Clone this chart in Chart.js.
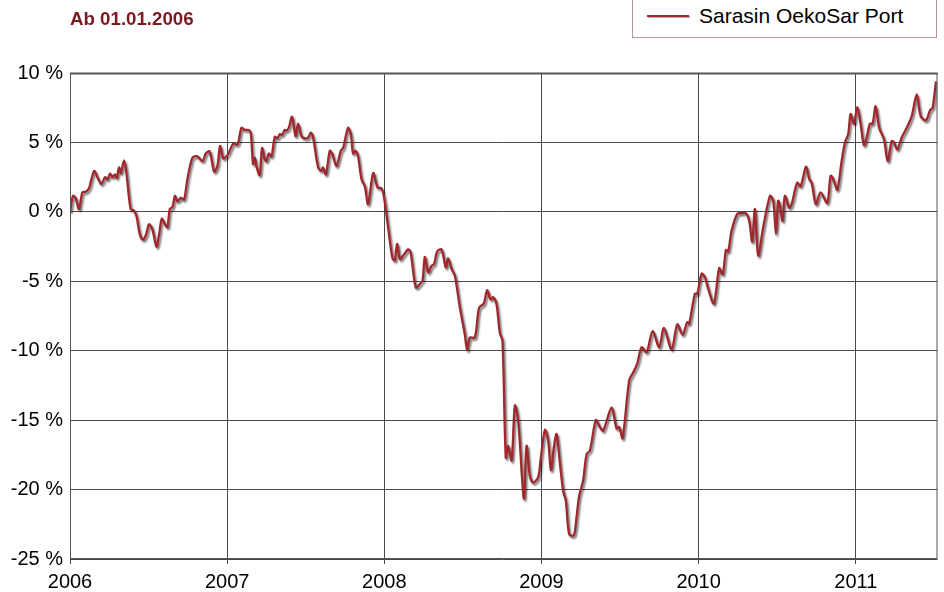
<!DOCTYPE html>
<html>
<head>
<meta charset="utf-8">
<script src="https://cdn.jsdelivr.net/npm/chart.js@4.4.1/dist/chart.umd.min.js"></script>
<style>
  body { margin: 0; background: #fff; font-family: "Liberation Sans", Arial, sans-serif; }
  #wrap { position: relative; width: 944px; height: 592px; }
  #since { position: absolute; left: 70px; top: 8px; font-weight: bold; font-size: 18.7px; color: #7b1a1f; }
  #legend { position: absolute; left: 632px; top: -4px; width: 305px; height: 42px; border: 1px solid #b49494; box-sizing: border-box; background: #fff; }
  #legend .swatch { position: absolute; left: 14px; top: 18px; width: 42px; height: 2px; background: #a0282d; box-shadow: 1px 1px 1px rgba(0,0,0,0.35); }
  #legend .name { position: absolute; left: 66px; top: 7px; font-size: 21px; color: #000; white-space: nowrap; }
</style>
</head>
<body>
<div id="wrap">
  <canvas id="perfChart" width="944" height="592"></canvas>
  <div id="since">Ab 01.01.2006</div>
  <div id="legend"><div class="swatch"></div><div class="name">Sarasin OekoSar Port</div></div>
</div>
<script>
// weekly-ish performance since 01.01.2006, in percent
const fundName = 'Sarasin OekoSar Port';
const yearTicks = [2006, 2007, 2008, 2009, 2010, 2011];
const percentTicks = [-25, -20, -15, -10, -5, 0, 5, 10];

const dates = [
  2006.000, 2006.019, 2006.036, 2006.057, 2006.079, 2006.100, 2006.121, 2006.153, 2006.174, 2006.200,
  2006.223, 2006.238, 2006.255, 2006.270, 2006.286, 2006.297, 2006.312, 2006.323, 2006.344, 2006.359,
  2006.386, 2006.407, 2006.423, 2006.444, 2006.465, 2006.482, 2006.503, 2006.524, 2006.550, 2006.566,
  2006.584, 2006.605, 2006.620, 2006.635, 2006.652, 2006.668, 2006.684, 2006.705, 2006.726, 2006.747,
  2006.779, 2006.811, 2006.843, 2006.864, 2006.889, 2006.917, 2006.938, 2006.955, 2006.976, 2007.006,
  2007.038, 2007.066, 2007.091, 2007.112, 2007.137, 2007.150, 2007.165, 2007.176, 2007.186, 2007.207,
  2007.222, 2007.239, 2007.250, 2007.265, 2007.282, 2007.303, 2007.320, 2007.335, 2007.349, 2007.367,
  2007.377, 2007.392, 2007.413, 2007.435, 2007.451, 2007.473, 2007.494, 2007.515, 2007.532, 2007.547,
  2007.579, 2007.600, 2007.610, 2007.628, 2007.653, 2007.668, 2007.696, 2007.723, 2007.738, 2007.769,
  2007.787, 2007.801, 2007.817, 2007.833, 2007.855, 2007.876, 2007.897, 2007.929, 2007.957, 2007.982,
  2007.999, 2008.024, 2008.052, 2008.067, 2008.081, 2008.099, 2008.120, 2008.151, 2008.167, 2008.200,
  2008.226, 2008.243, 2008.258, 2008.279, 2008.300, 2008.317, 2008.336, 2008.364, 2008.391, 2008.406,
  2008.428, 2008.449, 2008.481, 2008.512, 2008.527, 2008.544, 2008.576, 2008.603, 2008.633, 2008.654,
  2008.676, 2008.692, 2008.714, 2008.735, 2008.752, 2008.773, 2008.788, 2008.810, 2008.831, 2008.852,
  2008.888, 2008.905, 2008.926, 2008.947, 2008.979, 2008.994, 2009.022, 2009.043, 2009.060, 2009.079,
  2009.096, 2009.117, 2009.138, 2009.155, 2009.176, 2009.206, 2009.223, 2009.240, 2009.265, 2009.287,
  2009.308, 2009.346, 2009.372, 2009.393, 2009.446, 2009.478, 2009.495, 2009.516, 2009.558, 2009.584,
  2009.609, 2009.637, 2009.669, 2009.707, 2009.749, 2009.779, 2009.828, 2009.864, 2009.898, 2009.927,
  2009.940, 2009.976, 2009.991, 2010.019, 2010.040, 2010.061, 2010.097, 2010.131, 2010.153, 2010.174,
  2010.188, 2010.210, 2010.246, 2010.273, 2010.301, 2010.322, 2010.341, 2010.358, 2010.379, 2010.411,
  2010.454, 2010.475, 2010.492, 2010.506, 2010.517, 2010.534, 2010.549, 2010.576, 2010.592, 2010.627,
  2010.649, 2010.683, 2010.704, 2010.719, 2010.746, 2010.776, 2010.818, 2010.840, 2010.857, 2010.882,
  2010.910, 2010.931, 2010.952, 2010.967, 2010.988, 2011.010, 2011.031, 2011.052, 2011.069, 2011.090,
  2011.107, 2011.126, 2011.149, 2011.179, 2011.203, 2011.228, 2011.243, 2011.264, 2011.292, 2011.324,
  2011.356, 2011.388, 2011.413, 2011.447, 2011.472, 2011.489, 2011.510
];

const performance = [
  0.0, 1.15, 1.0, 0.2, 1.4, 1.45, 1.7, 2.95, 2.5, 2.0,
  2.5, 2.35, 2.75, 2.5, 2.7, 2.45, 3.2, 2.8, 3.7, 2.8,
  0.2, 0.1, -0.3, -1.6, -2.0, -1.7, -0.9, -1.25, -2.5, -1.7,
  -0.5, -0.9, -1.1, 0.2, 0.35, 1.15, 0.75, 1.0, 0.9, 2.35,
  3.9, 4.0, 3.65, 4.2, 4.35, 2.9, 3.3, 4.75, 3.85, 4.15,
  4.9, 4.85, 6.05, 5.9, 5.9, 5.7, 3.45, 3.9, 3.3, 2.65,
  4.6, 3.8, 3.65, 4.2, 4.0, 5.4, 5.3, 5.6, 5.55, 5.9,
  5.85, 6.05, 6.85, 5.45, 6.35, 5.45, 5.3, 5.35, 5.7, 5.35,
  3.2, 2.95, 3.2, 2.7, 4.4, 4.2, 3.3, 4.4, 4.6, 6.05,
  5.6, 4.2, 4.4, 4.0, 2.35, 1.85, 0.55, 2.8, 1.75, 1.7,
  1.0, -1.1, -3.35, -3.5, -2.3, -3.4, -3.15, -2.7, -2.9, -5.45,
  -5.2, -4.95, -3.25, -4.35, -3.9, -3.75, -2.85, -2.7, -4.0, -3.35,
  -4.1, -4.6, -6.9, -8.8, -9.95, -9.05, -9.05, -6.9, -6.6, -5.65,
  -6.3, -6.15, -6.65, -8.7, -9.3, -17.7, -16.85, -17.9, -13.95, -15.05,
  -20.65, -16.85, -19.0, -19.5, -19.1, -17.9, -15.7, -16.5, -18.6, -16.95,
  -16.0, -18.05, -20.1, -20.8, -23.2, -23.3, -22.0, -20.45, -19.35, -17.45,
  -17.2, -15.0, -15.5, -15.75, -14.1, -15.6, -15.5, -16.3, -12.15, -11.55,
  -10.95, -9.75, -10.1, -8.6, -9.75, -8.35, -9.9, -8.1, -8.85, -7.95,
  -8.05, -5.9, -5.9, -4.45, -4.7, -5.55, -6.6, -4.05, -4.5, -2.75,
  -2.85, -1.35, -0.15, -0.1, -0.1, -0.65, -2.15, 0.2, -3.15, -1.1,
  1.15, 0.8, -1.6, 0.8, 0.45, -0.65, 1.15, 0.3, 0.55, 2.1,
  1.85, 3.25, 2.35, 2.1, 0.55, 1.4, 0.65, 2.6, 2.35, 1.6,
  3.65, 5.0, 5.6, 7.05, 6.35, 7.55, 6.3, 4.8, 5.35, 6.35,
  6.35, 7.6, 6.05, 5.25, 3.65, 5.1, 5.0, 4.5, 5.35, 6.05,
  6.9, 8.45, 6.9, 6.6, 7.3, 7.5, 9.4
];

const points = dates.map((d, i) => ({ x: d, y: performance[i] }));

// soft grey shadow under the line, plus the frame round the plot
const lineShadow = {
  id: 'lineShadow',
  beforeDatasetsDraw(chart) {
    const ctx = chart.ctx;
    ctx.save();
    ctx.shadowColor = 'rgba(0,0,0,0.55)';
    ctx.shadowOffsetX = 1.5;
    ctx.shadowOffsetY = 2;
    ctx.shadowBlur = 2;
  },
  afterDatasetsDraw(chart) {
    chart.ctx.restore();
  }
};

const plotFrame = {
  id: 'plotFrame',
  afterDraw(chart) {
    const { ctx, chartArea: a } = chart;
    ctx.save();
    ctx.strokeStyle = '#555';
    ctx.lineWidth = 1;
    ctx.strokeRect(a.left + 0.5, a.top + 0.5, a.right - a.left - 1, a.bottom - a.top - 1);
    ctx.lineWidth = 2;
    ctx.beginPath();
    ctx.moveTo(a.left, a.top + 0.5);
    ctx.lineTo(a.right, a.top + 0.5);
    ctx.stroke();
    ctx.restore();
  }
};

const perfChart = new Chart(document.getElementById('perfChart').getContext('2d'), {
  type: 'line',
  data: {
    datasets: [{
      label: fundName,
      data: points,
      borderColor: '#a0282d',
      borderWidth: 2.3,
      pointRadius: 0,
      tension: 0.3,
      fill: false
    }]
  },
  options: {
    responsive: false,
    animation: false,
    layout: { padding: { top: 73, right: 6.5, left: 0, bottom: 0 } },
    plugins: {
      legend: { display: false },
      tooltip: { enabled: false }
    },
    scales: {
      x: {
        type: 'linear',
        min: 2006,
        max: 2011.52,
        afterFit(scale) { scale.height = 33; },
        afterBuildTicks(scale) {
          scale.ticks = yearTicks.map(v => ({ value: v }));
        },
        grid: { color: '#4a4a4a', lineWidth: 1, tickLength: 5, tickColor: '#4a4a4a' },
        border: { display: false },
        ticks: {
          color: '#000',
          padding: 6,
          maxRotation: 0,
          font: { family: '"Liberation Sans", Arial, sans-serif', size: 20 },
          callback: v => String(v)
        }
      },
      y: {
        min: -25,
        max: 10,
        afterFit(scale) { scale.width = 70; },
        afterBuildTicks(scale) {
          scale.ticks = percentTicks.map(v => ({ value: v }));
        },
        grid: { color: '#4a4a4a', lineWidth: 1, drawTicks: false },
        border: { display: false },
        ticks: {
          color: '#000',
          padding: 7,
          font: { family: '"Liberation Sans", Arial, sans-serif', size: 20 },
          callback: v => v + ' %'
        }
      }
    }
  },
  plugins: [lineShadow, plotFrame]
});
</script>
</body>
</html>
